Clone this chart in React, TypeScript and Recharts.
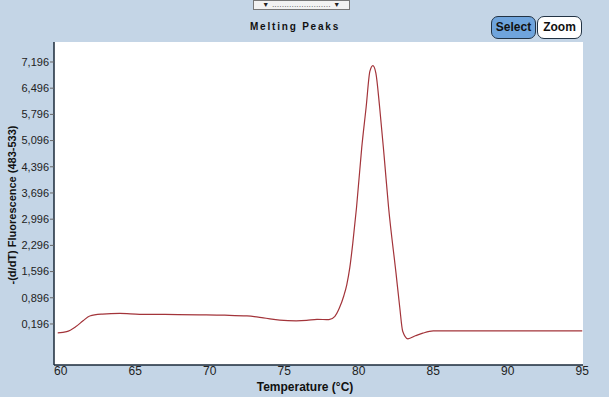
import React from 'react';
import { LineChart, Line, XAxis, YAxis } from 'recharts';

// temperature (°C) and -(d/dT) fluorescence
const temps = [
  59.8, 60.4, 61.0, 61.5, 61.95, 62.8, 63.96, 65.3, 67.0, 69.3, 71.0, 72.5, 73.6, 74.7,
  75.8, 76.5, 77.2, 78.0, 78.4, 78.7, 79.0, 79.2, 79.4, 79.6, 79.85, 80.2, 80.5, 80.75, 80.95,
  81.15, 81.4, 81.7, 82.0, 82.5, 82.75, 82.95, 83.3, 83.8, 84.3, 85.0, 87.0, 90.0, 95.0,
];
const fluor = [
  -0.04, -0.01, 0.12, 0.28, 0.41, 0.46, 0.48, 0.455, 0.45, 0.44, 0.43, 0.41, 0.36, 0.3,
  0.28, 0.29, 0.32, 0.31, 0.4, 0.62, 0.95, 1.25, 1.7, 2.35, 3.3, 4.9, 6.0, 6.95, 7.1,
  6.9, 6.0, 4.7, 3.32, 1.56, 0.65, 0.0, -0.2, -0.12, -0.05, 0.01, 0.01, 0.01, 0.01,
];
const xTicks = [60, 65, 70, 75, 80, 85, 90, 95];
const yTicks = [0.196, 0.896, 1.596, 2.296, 2.996, 3.696, 4.396, 5.096, 5.796, 6.496, 7.196];

const data = temps.map((t, i) => ({ t, v: fluor[i] }));

const FONT = '"Liberation Sans Narrow", "Liberation Sans", Arial, sans-serif';
const BG = '#c4d5e6';
const LINE = '#a3343a';

const fmtY = (v: number) => v.toFixed(3).replace('.', ',');

export default function App() {
  return (
    <div style={{ position: 'fixed', left: 0, top: 0, width: 609, height: 397, background: BG, fontFamily: FONT }}>
      <div
        style={{
          position: 'absolute', left: 253, top: 0, width: 95, height: 8, background: '#f2f2f2',
          border: '1px solid #777', fontSize: 7, lineHeight: '8px', textAlign: 'center', color: '#222',
          letterSpacing: 0.5, overflow: 'hidden',
        }}
      >
        ▼ ........................ ▼
      </div>
      <div
        style={{
          position: 'absolute', left: 200, top: 21, width: 190, textAlign: 'center', fontSize: 10,
          fontWeight: 'bold', letterSpacing: 1.8, fontFamily: 'Arial, "Liberation Sans", sans-serif', color: '#111',
        }}
      >
        Melting Peaks
      </div>
      <div
        style={{
          position: 'absolute', left: 491, top: 16, width: 43, height: 21, borderRadius: 7, background: '#6fa4dc',
          border: '1px solid #234', fontSize: 12, fontWeight: 'bold', lineHeight: '21px', textAlign: 'center', color: '#111',
        }}
      >
        Select
      </div>
      <div
        style={{
          position: 'absolute', left: 537, top: 16, width: 43, height: 21, borderRadius: 7, background: '#fff',
          border: '1px solid #234', fontSize: 12, fontWeight: 'bold', lineHeight: '21px', textAlign: 'center', color: '#111',
        }}
      >
        Zoom
      </div>
      <div
        style={{
          position: 'absolute', left: 12, top: 205, transform: 'translate(-50%, -50%) rotate(-90deg)', whiteSpace: 'nowrap',
          fontSize: 11, fontWeight: 'bold', color: '#111', fontFamily: 'Arial, "Liberation Sans", sans-serif',
        }}
      >
        -(d/dT) Fluorescence (483-533)
      </div>
      <div
        style={{
          position: 'absolute', left: 205, top: 380, width: 200, textAlign: 'center', fontSize: 12,
          fontWeight: 'bold', color: '#111', lineHeight: '14px',
        }}
      >
        Temperature (°C)
      </div>
      <div style={{ position: 'absolute', left: 0, top: 0 }}>
        <LineChart width={609} height={397} data={data} margin={{ top: 42, right: 26, left: 0, bottom: 0 }}>
          <rect x={54} y={42} width={529} height={323} fill="#fff" />
          <XAxis
            dataKey="t"
            type="number"
            domain={[59.55, 95.05]}
            ticks={xTicks}
            allowDataOverflow
            height={32}
            tickLine={false}
            tickSize={0}
            tickMargin={1}
            axisLine={{ stroke: '#1b2a3a', strokeWidth: 1.5 }}
            tick={{ fill: '#222', fontSize: 12, fontFamily: FONT }}
          />
          <XAxis xAxisId="top" dataKey="t" type="number" domain={[59.55, 95.05]} orientation="top" height={0} tick={false} tickLine={false} axisLine={{ stroke: '#1b2a3a', strokeWidth: 1.5 }} />
          <YAxis
            type="number"
            domain={[-0.9, 7.73]}
            ticks={yTicks}
            allowDataOverflow
            width={54}
            tickSize={4}
            tickMargin={1}
            tickFormatter={fmtY}
            axisLine={{ stroke: '#1b2a3a', strokeWidth: 1.5 }}
            tickLine={{ stroke: '#666' }}
            tick={{ fill: '#222', fontSize: 11, fontFamily: FONT }}
          />
          <YAxis yAxisId="right" orientation="right" domain={[-0.9, 7.73]} width={0} tick={false} tickLine={false} axisLine={{ stroke: '#1b2a3a', strokeWidth: 1.5 }} />
          <Line type="monotone" dataKey="v" stroke={LINE} strokeWidth={1.2} dot={false} isAnimationActive={false} />
        </LineChart>
      </div>
    </div>
  );
}
